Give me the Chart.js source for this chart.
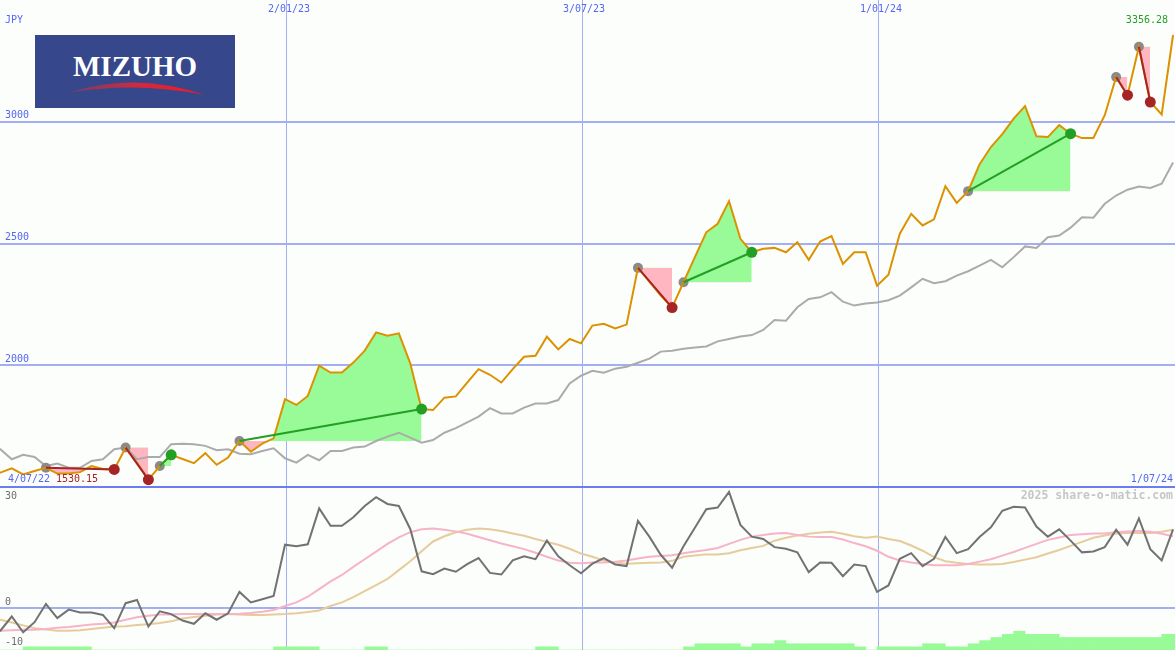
<!DOCTYPE html>
<html>
<head>
<meta charset="utf-8">
<title>Mizuho</title>
<script src="https://cdn.jsdelivr.net/npm/chart.js@4.4.1/dist/chart.umd.min.js"></script>
<style>
  body { margin: 0; background: #fcfefc; }
  #wrap { position: relative; width: 1175px; height: 650px; overflow: hidden; background: #fcfefc; }
  #osc-chart { position: absolute; left: 0; top: 487px; }
  #price-chart { position: absolute; left: 0; top: 0; z-index: 2; }
  #logo { position: absolute; left: 35px; top: 35px; width: 200px; height: 73px; background: #36478b; z-index: 3; }
  #logo span { position: absolute; left: 0; top: 17px; width: 200px; text-align: center; color: #fff;
               font: bold 29px/1 "Liberation Serif", serif; }
  #logo svg { position: absolute; left: 0; top: 0; }
</style>
</head>
<body>
<div id="wrap">
  <canvas id="osc-chart" width="1175" height="163"></canvas>
  <canvas id="price-chart" width="1175" height="489"></canvas>
  <div id="logo">
    <span>MIZUHO</span>
    <svg width="200" height="73">
      <defs>
        <linearGradient id="swoosh" x1="0" x2="1" y1="0" y2="0">
          <stop offset="0" stop-color="#a8384f" stop-opacity="0.5"/>
          <stop offset="0.5" stop-color="#d02a3c"/>
          <stop offset="1" stop-color="#f01c22"/>
        </linearGradient>
      </defs>
      <path d="M33,58 Q98,36 170,60 Q100,46 33,58 Z" fill="url(#swoosh)"/>
    </svg>
  </div>
</div>
<script>
// weekly closes, 4/07/22 .. 1/07/24 (x = week number)
const price = [
  1545, 1559, 1577, 1552, 1566, 1579, 1555, 1555, 1561, 1586,
  1574, 1572, 1662, 1599, 1530.15, 1586, 1632, 1615, 1598, 1639,
  1591, 1621, 1689, 1645, 1678, 1700, 1861, 1837, 1874, 1998,
  1970, 1970, 2011, 2060, 2135, 2121, 2131, 2008, 1820, 1816,
  1867, 1872, 1929, 1984, 1961, 1929, 1984, 2035, 2039, 2117,
  2065, 2108, 2090, 2163, 2170, 2151, 2167, 2400, 2344, 2286,
  2237, 2341, 2444, 2546, 2581, 2674, 2519, 2464, 2478, 2482,
  2464, 2505, 2433, 2508, 2530, 2416, 2464, 2464, 2327, 2372,
  2540, 2622, 2574, 2599, 2735, 2667, 2715, 2825, 2896, 2949,
  3013, 3064, 2940, 2937, 2986, 2951, 2933, 2933, 3027, 3184,
  3109, 3308, 3081, 3030, 3356.28
];
// moving average (grey)
const avg = [
  1660, 1655, 1614, 1632, 1623, 1586, 1596, 1579, 1579, 1607,
  1614, 1655, 1662, 1614, 1623, 1623, 1676, 1678, 1676, 1669,
  1651, 1655, 1637, 1635, 1648, 1659, 1618, 1600, 1632, 1610,
  1648, 1648, 1662, 1666, 1689, 1707, 1723, 1703, 1682, 1693,
  1723, 1742, 1765, 1789, 1824, 1802, 1802, 1826, 1843, 1843,
  1857, 1925, 1957, 1977, 1969, 1986, 1994, 2010, 2027, 2056,
  2060, 2068, 2073, 2077, 2098, 2108, 2118, 2124, 2145, 2186,
  2183, 2238, 2272, 2279, 2300, 2261, 2245, 2254, 2258, 2267,
  2286, 2320, 2355, 2337, 2345, 2368, 2386, 2409, 2433, 2402,
  2444, 2488, 2482, 2526, 2533, 2565, 2608, 2606, 2663, 2697,
  2721, 2734, 2728, 2746, 2833
];
// lower panel
const osc = [
  -7.5, -5.6, -2.1, -6.0, -3.5, 1.0, -2.5, -0.4, -1.1, -1.1,
  -1.7, -5.0, 1.2, 2.0, -4.6, -0.8, -1.5, -3.1, -3.9, -1.3,
  -2.9, -1.3, 4.0, 1.4, 2.2, 3.0, 15.7, 15.3, 15.8, 24.7,
  20.4, 20.4, 22.5, 25.3, 27.5, 25.8, 25.3, 19.6, 9.1, 8.4,
  9.8, 9.0, 10.9, 12.4, 8.7, 8.3, 11.8, 12.8, 12.1, 16.7,
  12.8, 10.6, 8.6, 11.0, 12.4, 10.8, 10.4, 21.6, 17.7, 13.2,
  10.0, 15.3, 19.9, 24.5, 24.9, 28.8, 20.6, 17.7, 17.1, 15.1,
  14.7, 13.8, 8.9, 11.3, 11.2, 7.9, 10.8, 10.4, 4.0, 5.6,
  12.2, 13.6, 10.4, 12.2, 17.6, 13.6, 14.6, 17.6, 20.0, 24.1,
  25.1, 24.9, 20.2, 17.7, 19.5, 16.7, 13.8, 14.0, 15.1, 19.4,
  15.7, 22.2, 14.6, 11.8, 19.5
];
const oscFast = [
  -5.6, -5.6, -5.5, -5.4, -5.4, -5.2, -4.9, -4.7, -4.4, -4.1,
  -3.9, -3.6, -2.9, -2.3, -1.9, -1.6, -1.6, -1.5, -1.5, -1.5,
  -1.5, -1.5, -1.4, -1.2, -0.9, -0.5, 0.5, 1.4, 2.8, 4.7,
  6.6, 8.2, 10.2, 12.1, 14.0, 15.9, 17.5, 18.8, 19.5, 19.7,
  19.4, 19.0, 18.4, 17.6, 16.8, 16.0, 15.3, 14.6, 13.7, 12.7,
  11.8, 11.2, 11.1, 11.3, 11.3, 11.5, 11.8, 12.3, 12.7, 12.9,
  13.1, 13.6, 14.0, 14.4, 14.9, 15.9, 16.9, 17.7, 18.1, 18.5,
  18.6, 18.1, 17.7, 17.6, 17.6, 17.0, 16.1, 15.3, 14.2, 12.7,
  11.8, 11.3, 10.9, 10.6, 10.6, 10.6, 10.9, 11.5, 12.1, 13.0,
  13.9, 14.9, 15.9, 16.9, 17.5, 18.1, 18.3, 18.5, 18.5, 18.8,
  19.0, 19.1, 18.9, 18.4, 17.8
];
const oscSlow = [
  -2.1, -2.9, -3.6, -4.3, -5.0, -5.3, -5.6, -5.6, -5.5, -5.2,
  -4.9, -4.6, -4.5, -4.2, -4.0, -3.7, -3.3, -2.6, -2.2, -1.9,
  -1.6, -1.5, -1.6, -1.7, -1.7, -1.6, -1.5, -1.3, -1.0, -0.6,
  0.5, 1.4, 2.7, 4.2, 5.7, 7.2, 9.4, 11.6, 14.1, 16.5,
  17.8, 18.8, 19.4, 19.7, 19.5, 19.1, 18.5, 17.9, 17.1, 16.4,
  15.7, 14.7, 13.5, 12.7, 11.8, 11.3, 11.0, 11.1, 11.2, 11.3,
  11.7, 12.7, 13.0, 13.3, 13.3, 13.6, 14.3, 14.9, 15.4, 16.7,
  17.4, 18.0, 18.4, 18.7, 18.9, 18.4, 17.8, 17.4, 17.7, 17.1,
  16.6, 15.5, 14.2, 12.6, 11.6, 11.2, 10.9, 10.8, 10.8, 10.9,
  11.4, 12.0, 12.6, 13.5, 14.4, 15.4, 16.4, 17.4, 18.0, 18.5,
  18.6, 18.6, 18.6, 18.9, 19.4
];
// green steps at the bottom
const signal = [
  0, 0, 0, 1, 1, 1, 1, 1, 1, 0,
  0, 0, 0, 0, 0, 0, 0, 0, 0, 0,
  0, 0, 0, 0, 0, 1, 1, 1, 1, 0,
  0, 0, 0, 1, 1, 0, 0, 0, 0, 0,
  0, 0, 0, 0, 0, 0, 0, 0, 1, 1,
  0, 0, 0, 0, 0, 0, 0, 0, 0, 0,
  0, 1, 2, 2, 2, 2, 1, 2, 2, 3,
  2, 2, 2, 2, 2, 2, 1, 0, 1, 1,
  1, 1, 2, 2, 1, 1, 2, 3, 4, 5,
  6, 5, 5, 5, 4, 4, 4, 4, 4, 4,
  4, 4, 4, 5, 5
];
// buy / sell weeks
const tradeIn = [5, 12, 15, 22, 57, 61, 86, 99, 101];
const tradeOut = [11, 14, 16, 38, 60, 67, 95, 100, 102];

const gridWeeks = [26.17, 52.09, 78.17];
const gridDates = ['2/01/23', '3/07/23', '1/01/24'];
const firstDate = '4/07/22';
const lastDate = '1/07/24';
const currency = 'JPY';
const priceTicks = [2000, 2500, 3000];
const oscTicks = [30, 0, -10];

const gridBlue = '#a3aff2';
const axisBlue = '#6d7cf0';
const textBlue = '#5566ee';
const upGreen = '#239f23';
const downRed = '#a52424';
const font = '10px "DejaVu Sans Mono", monospace';

function pts(arr, from, to) {
  return arr.slice(from, to + 1).map((v, j) => ({x: from + j, y: v}));
}

function xAxis() {
  return {
    type: 'linear', min: 0.966, max: 104.17, offset: false,
    afterBuildTicks: a => { a.ticks = gridWeeks.map(v => ({value: v})); },
    ticks: {display: false},
    grid: {color: gridBlue, lineWidth: 1, drawTicks: false, offset: false},
    border: {display: false}
  };
}

// price chart
var datasets = [];
tradeIn.forEach((a, k) => {
  const b = tradeOut[k];
  const won = price[b] > price[a];
  datasets.push({
    data: pts(price, a, b), borderColor: 'rgba(0,0,0,0)', borderWidth: 1, pointRadius: 0,
    fill: {target: {value: price[a]}, above: '#98fb98', below: '#ffb6c1'}, order: 6
  });
  datasets.push({
    data: [{x: a, y: price[a]}, {x: b, y: price[b]}],
    borderColor: won ? upGreen : downRed, borderWidth: 2, pointRadius: 0, order: 1
  });
});
datasets.push({data: pts(avg, 0, avg.length - 1), borderColor: '#ababab', borderWidth: 2, pointRadius: 0, order: 5});
datasets.push({
  data: tradeIn.map(i => ({x: i, y: price[i]})), showLine: false,
  pointRadius: 5, pointBorderWidth: 0, pointBackgroundColor: '#8a8a8a', order: 4
});
datasets.push({data: pts(price, 0, price.length - 1), borderColor: '#dc9200', borderWidth: 2, pointRadius: 0, order: 3});
datasets.push({
  data: tradeOut.map(i => ({x: i, y: price[i]})), showLine: false,
  pointRadius: 5.5, pointBorderWidth: 0,
  pointBackgroundColor: tradeOut.map((b, k) => price[b] > price[tradeIn[k]] ? upGreen : downRed), order: 0
});

const priceText = {
  id: 'priceText',
  afterDraw(chart) {
    const ctx = chart.ctx, x = chart.scales.x, y = chart.scales.y;
    ctx.save();
    ctx.font = font;
    ctx.textBaseline = 'middle';
    ctx.fillStyle = textBlue;
    ctx.textAlign = 'left';
    ctx.fillText(currency, 5, 20);
    priceTicks.forEach(v => ctx.fillText(String(v), 5, y.getPixelForValue(v) - 6));
    ctx.fillText(firstDate, 8, y.bottom - 8);
    ctx.textAlign = 'center';
    gridWeeks.forEach((w, k) => ctx.fillText(gridDates[k], x.getPixelForValue(w) + 2, 9));
    ctx.textAlign = 'right';
    ctx.fillText(lastDate, 1173, y.bottom - 8);
    ctx.fillStyle = upGreen;
    ctx.fillText(Math.max(...price).toFixed(2), 1168, 20);
    ctx.textAlign = 'left';
    ctx.fillStyle = downRed;
    ctx.fillText(Math.min(...price).toFixed(2), 56, y.bottom - 8);
    ctx.restore();
  }
};

new Chart(document.getElementById('price-chart'), {
  type: 'line',
  data: {datasets: datasets},
  options: {
    responsive: false, animation: false, events: [],
    layout: {autoPadding: false, padding: {top: 0, left: 0, right: 0, bottom: 2}},
    plugins: {legend: {display: false}, tooltip: {enabled: false}},
    scales: {
      x: xAxis(),
      y: {
        min: 1500, max: 3500,
        afterBuildTicks: a => { a.ticks = [1500].concat(priceTicks).map(v => ({value: v})); },
        ticks: {display: false},
        grid: {color: c => (c.tick && c.tick.value === 1500) ? axisBlue : gridBlue, lineWidth: 2, drawTicks: false},
        border: {display: false}
      }
    }
  },
  plugins: [priceText]
});

// oscillator chart
const oscText = {
  id: 'oscText',
  afterDraw(chart) {
    const ctx = chart.ctx, y = chart.scales.y;
    ctx.save();
    ctx.font = font;
    ctx.textBaseline = 'middle';
    ctx.textAlign = 'left';
    ctx.fillStyle = '#6e6e6e';
    oscTicks.forEach(v => ctx.fillText(String(v), 5, Math.max(y.getPixelForValue(v) - 6, 9)));
    ctx.font = 'bold 11.5px "DejaVu Sans Mono", monospace';
    ctx.fillStyle = '#c6c6c6';
    ctx.textAlign = 'right';
    ctx.fillText('2025 share-o-matic.com', 1173, 9);
    ctx.restore();
  }
};

new Chart(document.getElementById('osc-chart'), {
  type: 'line',
  data: {
    datasets: [
      {data: pts(osc, 0, osc.length - 1), borderColor: '#727272', borderWidth: 2, pointRadius: 0, order: 0},
      {data: pts(oscFast, 0, oscFast.length - 1), borderColor: '#f7b3c7', borderWidth: 2, pointRadius: 0, order: 1},
      {data: pts(oscSlow, 0, oscSlow.length - 1), borderColor: '#e6cb9b', borderWidth: 2, pointRadius: 0, order: 2},
      {
        type: 'bar', yAxisID: 'yv', order: 3,
        data: signal.map((v, i) => ({x: i + 0.5, y: v})),
        backgroundColor: '#98fb98', borderWidth: 0, barPercentage: 1, categoryPercentage: 1
      }
    ]
  },
  options: {
    responsive: false, animation: false, events: [],
    layout: {autoPadding: false, padding: 0},
    plugins: {legend: {display: false}, tooltip: {enabled: false}},
    scales: {
      x: xAxis(),
      y: {
        min: -10.4, max: 30,
        afterBuildTicks: a => { a.ticks = [{value: 0}]; },
        ticks: {display: false},
        grid: {color: gridBlue, lineWidth: 2, drawTicks: false},
        border: {display: false}
      },
      yv: {display: false, min: 0, max: 52}
    }
  },
  plugins: [oscText]
});
</script>
</body>
</html>
